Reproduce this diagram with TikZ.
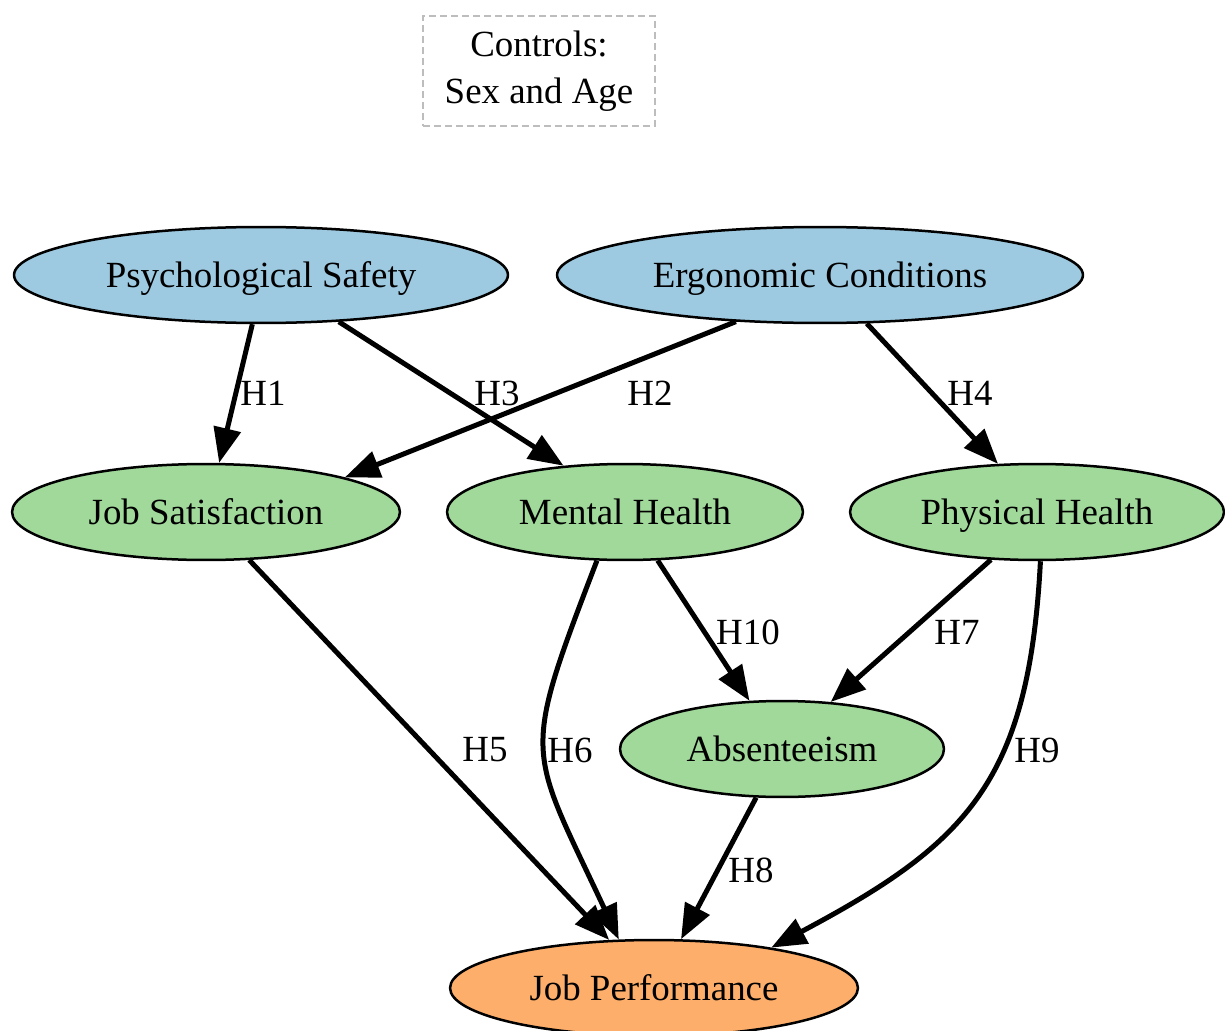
\documentclass[tikz,border=0pt]{standalone}
\usepackage{fontspec}
\setmainfont{Liberation Serif}
\usetikzlibrary{shapes.geometric,arrows.meta}
\definecolor{predblue}{HTML}{9ECAE1}
\definecolor{medgreen}{HTML}{A1D99B}
\definecolor{outorange}{HTML}{FDAE6B}
\definecolor{ctrlgray}{HTML}{BDBDBD}
\tikzset{
  var/.style={ellipse,draw,line width=0.05cm,inner sep=0pt,minimum height=1.92cm,text height=0.49cm,text depth=0.01cm,font=\fontsize{21}{25}\selectfont},
  hyp/.style={line width=0.1cm,-{Triangle[length=0.7cm,width=0.54cm]}},
  hlab/.style={inner sep=0pt,font=\fontsize{21}{25}\selectfont}
}
\begin{document}
\begin{tikzpicture}[x=0.02cm,y=-0.02cm]
\useasboundingbox (0,0) rectangle (1225,1031);
\node[draw=ctrlgray,dash pattern=on 0.14cm off 0.08cm,line width=0.045cm,minimum width=4.64cm,minimum height=2.2cm,align=center,font=\fontsize{21}{26.6}\selectfont] (ctrl) at (539,71) {Controls:\\Sex and Age};

\node[var,fill=predblue,minimum width=9.88cm] (ps) at (261,275) {Psychological Safety};
\node[var,fill=predblue,minimum width=10.52cm] (ec) at (820,275) {Ergonomic Conditions};
\node[var,fill=medgreen,minimum width=7.76cm] (js) at (206,512) {Job Satisfaction};
\node[var,fill=medgreen,minimum width=7.12cm] (mh) at (625,512) {Mental Health};
\node[var,fill=medgreen,minimum width=7.48cm] (ph) at (1037,512) {Physical Health};
\node[var,fill=medgreen,minimum width=6.48cm] (ab) at (782,749) {Absenteeism};
\node[var,fill=outorange,minimum width=8.16cm] (jp) at (654,988) {Job Performance};

\draw[hyp] (ps.-100.8) -- (js.75.7);
\draw[hyp] (ec.-151.5) -- (js.14);
\draw[hyp] (ps.-31.3) -- (mh.143);
\draw[hyp] (ec.-46.2) -- (ph.129);
\draw[hyp] (js.-48) -- (jp.133);
\draw[hyp] (mh.-120) to[out=-111,in=115,looseness=1.45] (jp.126);
\draw[hyp] (ph.-134) -- (ab.44);
\draw[hyp] (ab.-118) -- (jp.61);
\draw[hyp] (ph.-86.4) to[out=-93,in=28,looseness=1.2] (jp.19);
\draw[hyp] (mh.-56) -- (ab.124);

\node[hlab] (h1) at (263,393) {H1};
\node[hlab] (h2) at (650,393) {H2};
\node[hlab] (h3) at (497,393) {H3};
\node[hlab] (h4) at (970,393) {H4};
\node[hlab] (h5) at (485,750) {H5};
\node[hlab] (h6) at (570,750) {H6};
\node[hlab] (h7) at (957,632) {H7};
\node[hlab] (h8) at (751,870) {H8};
\node[hlab] (h9) at (1037,750) {H9};
\node[hlab] (h10) at (748,632) {H10};
\end{tikzpicture}
\end{document}
